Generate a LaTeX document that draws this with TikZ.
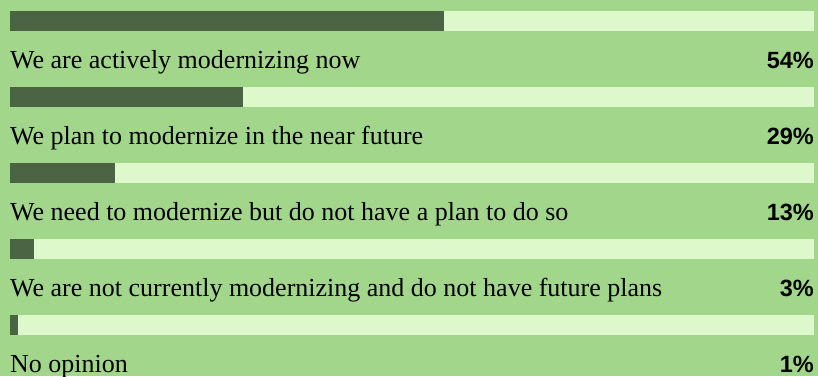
\documentclass[tikz,border=0pt]{standalone}
\usepackage{fontspec}
\setmainfont{Liberation Serif}
\newfontfamily\numfont{Liberation Sans}
\usetikzlibrary{positioning}

\definecolor{bggreen}{HTML}{A2D68A}
\definecolor{bardark}{HTML}{4A6444}
\definecolor{barlight}{HTML}{DDF8CB}

\begin{document}
\begin{tikzpicture}[x=1pt,y=-1pt,
  track/.style={fill=barlight,inner sep=0pt,outer sep=0pt,minimum width=804pt,minimum height=20pt,anchor=north west},
  level/.style={fill=bardark,inner sep=0pt,outer sep=0pt,minimum height=20pt,anchor=west},
  caption/.style={anchor=base west,inner sep=0pt,font=\fontsize{26}{30}\selectfont},
  share/.style={anchor=base east,inner sep=0pt,font=\numfont\bfseries\fontsize{23.5}{28}\selectfont}]
%\useasboundingbox keeps the margins of the reference
\fill[bggreen] (0,0) rectangle (818,376);
\useasboundingbox (0,0) rectangle (818,376);

\node[track] (t1) at (10,11) {};
\node[level,minimum width=434pt] (f1) at (t1.west) {};
\node[caption] (c1) at (10,68) {We are actively modernizing now};
\node[share] (p1) at (814,68) {54\%};

\node[track] (t2) at (10,87) {};
\node[level,minimum width=233pt] (f2) at (t2.west) {};
\node[caption] (c2) at (10,144) {We plan to modernize in the near future};
\node[share] (p2) at (814,144) {29\%};

\node[track] (t3) at (10,163) {};
\node[level,minimum width=105pt] (f3) at (t3.west) {};
\node[caption] (c3) at (10,220) {We need to modernize but do not have a plan to do so};
\node[share] (p3) at (814,220) {13\%};

\node[track] (t4) at (10,239) {};
\node[level,minimum width=24pt] (f4) at (t4.west) {};
\node[caption] (c4) at (10,296) {We are not currently modernizing and do not have future plans};
\node[share] (p4) at (814,296) {3\%};

\node[track] (t5) at (10,315) {};
\node[level,minimum width=8pt] (f5) at (t5.west) {};
\node[caption] (c5) at (10,372) {No opinion};
\node[share] (p5) at (814,372) {1\%};
\end{tikzpicture}
\end{document}
